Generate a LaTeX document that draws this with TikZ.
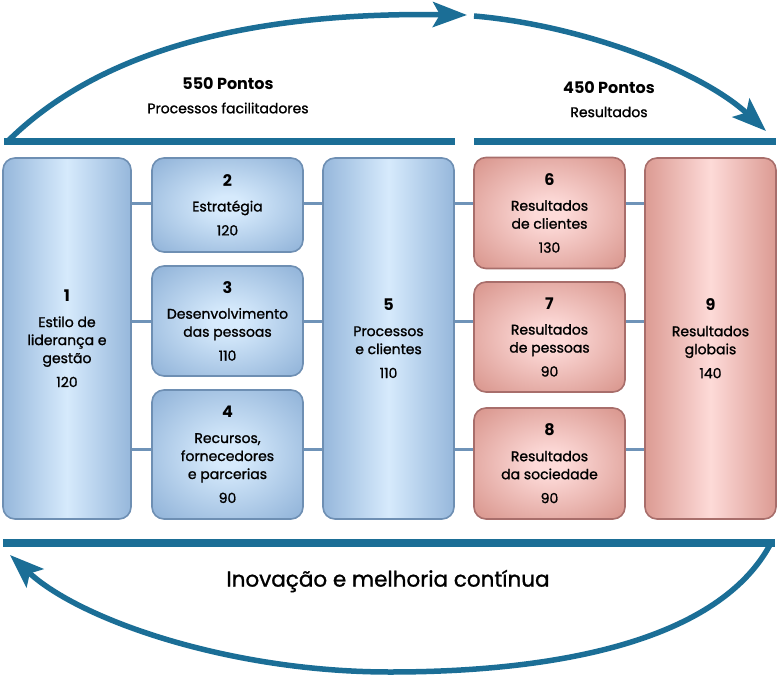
\documentclass[tikz,border=0pt]{standalone}
\usepackage{fontspec}
\setmainfont{Poppins}[UprightFeatures={FakeBold=1.2}]
\usetikzlibrary{arrows.meta}
\definecolor{arcblue}{HTML}{1B6E96}
\definecolor{bdark}{HTML}{84A9D2}
\definecolor{blight}{HTML}{D6EAFC}
\definecolor{bedge}{HTML}{6E8FB3}
\definecolor{rdark}{HTML}{D2897F}
\definecolor{rlight}{HTML}{FDDAD8}
\definecolor{redge}{HTML}{A86E6B}
\definecolor{conn}{HTML}{6F93B8}
\pgfdeclarehorizontalshading{btall}{100bp}{color(0bp)=(bdark); color(18bp)=(bdark); color(50bp)=(blight); color(82bp)=(bdark); color(100bp)=(bdark)}
\pgfdeclarehorizontalshading{rtall}{100bp}{color(0bp)=(rdark); color(18bp)=(rdark); color(50bp)=(rlight); color(82bp)=(rdark); color(100bp)=(rdark)}
\pgfdeclareradialshading{bsmall}{\pgfpoint{0bp}{0bp}}{color(0bp)=(blight); color(5bp)=(blight); color(40bp)=(bdark); color(71bp)=(bdark)}
\pgfdeclareradialshading{rsmall}{\pgfpoint{0bp}{0bp}}{color(0bp)=(rlight); color(5bp)=(rlight); color(40bp)=(rdark); color(71bp)=(rdark)}
\newcommand{\numf}{\fontsize{16}{18}\selectfont\bfseries}
\begin{document}
\begin{tikzpicture}[x=1pt,y=-1pt,
  boxbase/.style={line width=1.6pt, rounded corners=12pt, inner sep=0pt, align=center,
    font=\fontsize{14}{18}\selectfont},
  bluetall/.style={boxbase, draw=bedge, shading=btall},
  bluesmall/.style={boxbase, draw=bedge, shading=bsmall},
  redtall/.style={boxbase, draw=redge, shading=rtall},
  redsmall/.style={boxbase, draw=redge, shading=rsmall},
  connline/.style={draw=conn, line width=3pt},
  arcline/.style={draw=arcblue, line width=5.5pt},
  barline/.style={draw=arcblue, line width=7pt},
  bigtip/.style={-{Stealth[length=34pt,width=25pt,inset=7pt]}},
  title/.style={font=\fontsize{16}{18}\selectfont\bfseries},
  sub/.style={font=\fontsize{14}{16}\selectfont}
]
\useasboundingbox (0,0) rectangle (777,677);

% row coordinates for connectors
\coordinate (r1) at (0,203);
\coordinate (r2) at (0,321);
\coordinate (r3) at (0,449);

% boxes
\node[bluetall, minimum width=128pt, minimum height=361pt] (b1) at (67,338.5)
  {{\numf 1}\\[7.5pt]Estilo de\\liderança e\\gestão\\[6pt]120};
\node[bluesmall, minimum width=151pt, minimum height=94pt] (b2) at (227.5,205)
  {{\numf 2}\\[7pt]Estratégia\\[6pt]120};
\node[bluesmall, minimum width=151pt, minimum height=110pt] (b3) at (227.5,321)
  {{\numf 3}\\[7.5pt]Desenvolvimento\\das pessoas\\[6pt]110};
\node[bluesmall, minimum width=151pt, minimum height=129pt] (b4) at (227.5,454.5)
  {{\numf 4}\\[7.5pt]Recursos,\\fornecedores\\e parcerias\\[6pt]90};
\node[bluetall, minimum width=131pt, minimum height=361pt] (b5) at (388.5,338.5)
  {{\numf 5}\\[7.5pt]Processos\\e clientes\\[6pt]110};
\node[redsmall, minimum width=151pt, minimum height=111pt] (b6) at (549.5,213)
  {{\numf 6}\\[7.5pt]Resultados\\de clientes\\[6pt]130};
\node[redsmall, minimum width=151pt, minimum height=110pt] (b7) at (549.5,337)
  {{\numf 7}\\[7.5pt]Resultados\\de pessoas\\[6pt]90};
\node[redsmall, minimum width=151pt, minimum height=111pt] (b8) at (549.5,463.5)
  {{\numf 8}\\[7.5pt]Resultados\\da sociedade\\[6pt]90};
\node[redtall, minimum width=131pt, minimum height=361pt] (b9) at (710.5,338.5)
  {{\numf 9}\\[7.5pt]Resultados\\globais\\[6pt]140};

% connectors
\draw[connline] (b1.east |- r1) -- (b2.west |- r1);
\draw[connline] (b1.east |- r2) -- (b3.west |- r2);
\draw[connline] (b1.east |- r3) -- (b4.west |- r3);
\draw[connline] (b2.east |- r1) -- (b5.west |- r1);
\draw[connline] (b3.east |- r2) -- (b5.west |- r2);
\draw[connline] (b4.east |- r3) -- (b5.west |- r3);
\draw[connline] (b5.east |- r1) -- (b6.west |- r1);
\draw[connline] (b5.east |- r2) -- (b7.west |- r2);
\draw[connline] (b5.east |- r3) -- (b8.west |- r3);
\draw[connline] (b6.east |- r1) -- (b9.west |- r1);
\draw[connline] (b7.east |- r2) -- (b9.west |- r2);
\draw[connline] (b8.east |- r3) -- (b9.west |- r3);

% bars
\coordinate (tl) at (4,141);
\coordinate (tm) at (455,141);
\coordinate (tr0) at (474,141);
\coordinate (tr1) at (776,141);
\coordinate (bl) at (3,543);
\coordinate (br) at (775,543);
\draw[barline] (tl) -- (tm);
\draw[barline] (tr0) -- (tr1);
\draw[barline, line width=8pt] (bl) -- (br);

% arcs
\coordinate (at1) at (467,15);
\coordinate (ar0) at (474,16);
\coordinate (ar1) at (766,131);
\coordinate (abm) at (390,672);
\coordinate (ab1) at (10,555);
\draw[arcline, bigtip] ([xshift=4pt]tl) .. controls (100,50) and (250,12) .. (at1);
\draw[arcline, bigtip] (ar0) .. controls (580,25) and (700,70) .. (ar1);
\draw[arcline, bigtip] ([xshift=-4pt]br) .. controls (720,640) and (560,672) .. (abm)
  .. controls (230,672) and (80,620) .. (ab1);

% labels
\node[title] (t1) at (228,84) {550 Pontos};
\node[sub] (s1) at (228,108) {Processos facilitadores};
\node[title] (t2) at (609,88) {450 Pontos};
\node[sub] (s2) at (609,112) {Resultados};
\node[font=\fontsize{21.5}{24}\selectfont] (inov) at (388,581) {Inovação e melhoria contínua};
\end{tikzpicture}
\end{document}
